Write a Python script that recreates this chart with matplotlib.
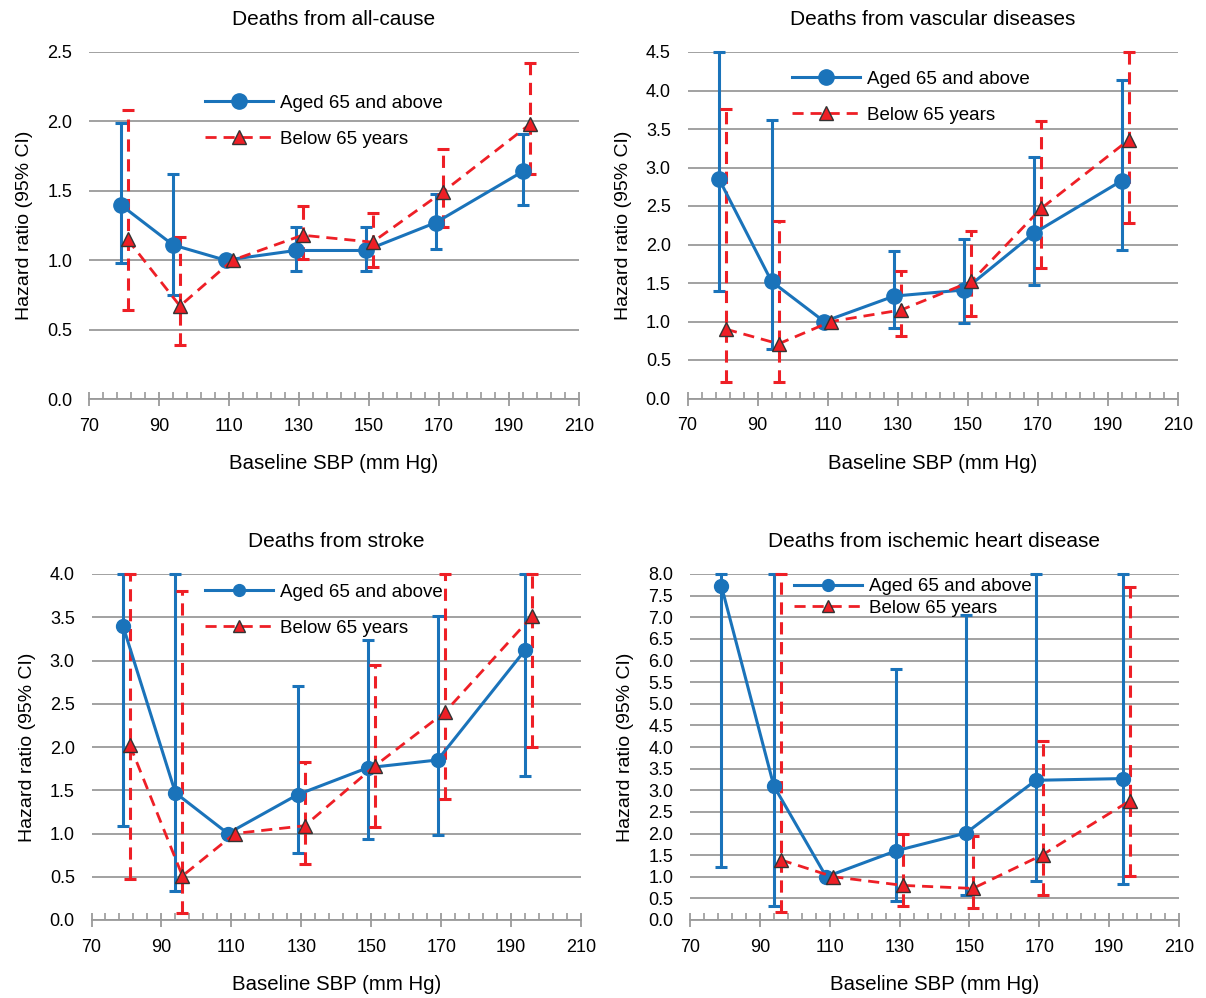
import numpy as np
import matplotlib
matplotlib.use("Agg")
import matplotlib.pyplot as plt
from matplotlib.ticker import FormatStrFormatter

plt.rcParams['font.family'] = ['Liberation Sans', 'DejaVu Sans']
BLUE = "#1a73ba"
RED = "#ee1f26"
GRID = "#9a9a9a"
nan = np.nan

# SBP group positions (the two series are drawn slightly apart)
sbp_old = [79, 94, 109, 129, 149, 169, 194]
sbp_young = [81, 96, 111, 131, 151, 171, 196]

titles = ["Deaths from all-cause", "Deaths from vascular diseases",
          "Deaths from stroke", "Deaths from ischemic heart disease"]
ytops = [2.5, 4.5, 4.0, 8.0]

# all-cause
ac_old = [1.40, 1.11, 1.00, 1.07, 1.07, 1.27, 1.64]
ac_old_lo = [0.98, 0.75, nan, 0.92, 0.92, 1.08, 1.40]
ac_old_hi = [1.99, 1.62, nan, 1.24, 1.24, 1.48, 1.91]
ac_young = [1.15, 0.67, 1.00, 1.18, 1.13, 1.49, 1.98]
ac_young_lo = [0.64, 0.39, nan, 1.01, 0.95, 1.24, 1.62]
ac_young_hi = [2.08, 1.17, nan, 1.39, 1.34, 1.80, 2.42]

# vascular
va_old = [2.85, 1.52, 1.00, 1.33, 1.41, 2.15, 2.83]
va_old_lo = [1.40, 0.64, nan, 0.91, 0.98, 1.47, 1.93]
va_old_hi = [4.50, 3.62, nan, 1.92, 2.07, 3.13, 4.14]
va_young = [0.90, 0.71, 1.00, 1.15, 1.52, 2.47, 3.36]
va_young_lo = [0.22, 0.22, nan, 0.81, 1.07, 1.70, 2.28]
va_young_hi = [3.76, 2.30, nan, 1.66, 2.18, 3.60, 4.50]

# stroke
st_old = [3.40, 1.47, 1.00, 1.45, 1.76, 1.85, 3.12]
st_old_lo = [1.09, 0.33, nan, 0.77, 0.94, 0.98, 1.66]
st_old_hi = [4.00, 4.00, nan, 2.70, 3.24, 3.52, 4.00]
st_young = [2.02, 0.51, 1.00, 1.09, 1.78, 2.40, 3.51]
st_young_lo = [0.47, 0.08, nan, 0.65, 1.08, 1.40, 2.00]
st_young_hi = [4.00, 3.80, nan, 1.83, 2.95, 4.00, 4.00]

# ischemic heart disease
ih_old = [7.72, 3.10, 1.00, 1.60, 2.01, 3.23, 3.27]
ih_old_lo = [1.23, 0.32, nan, 0.44, 0.58, 0.90, 0.83]
ih_old_hi = [8.00, 8.00, nan, 5.80, 7.05, 8.00, 8.00]
ih_young = [nan, 1.39, 1.00, 0.80, 0.73, 1.51, 2.76]
ih_young_lo = [nan, 0.18, nan, 0.33, 0.28, 0.57, 1.02]
ih_young_hi = [nan, 8.00, nan, 1.99, 1.95, 4.13, 7.69]

panels = [
    (ac_old, ac_old_lo, ac_old_hi, ac_young, ac_young_lo, ac_young_hi),
    (va_old, va_old_lo, va_old_hi, va_young, va_young_lo, va_young_hi),
    (st_old, st_old_lo, st_old_hi, st_young, st_young_lo, st_young_hi),
    (ih_old, ih_old_lo, ih_old_hi, ih_young, ih_young_lo, ih_young_hi),
]

W, H = 1206, 998
# axes boxes in pixels: left, right, top, bottom
boxes = [(89, 579, 52, 399), (687.5, 1178, 52, 398.5),
         (91.5, 581, 574, 920), (690, 1179, 574, 920)]
# legend anchor (axes fraction), row spacing, marker scale
leg_pos = [(0.222, 0.898, 1.0, 1.0), (0.197, 0.968, 1.0, 1.0),
           (0.217, 0.993, 1.0, 0.85), (0.197, 1.01, 0.25, 0.85)]

fig = plt.figure(figsize=(W / 100, H / 100), dpi=100)


def draw_err(ax, x, y, lo, hi, color, dashed):
    x = np.array(x, float); y = np.array(y, float)
    lo = np.array(lo, float); hi = np.array(hi, float)
    ok = ~np.isnan(lo)
    eb = ax.errorbar(x[ok], y[ok], yerr=[y[ok] - lo[ok], hi[ok] - y[ok]],
                     fmt="none", ecolor=color, elinewidth=2.2, capsize=4,
                     capthick=2.2, zorder=2)
    for c in eb[1]:
        c.set_clip_on(False)
    for lc in eb[2]:
        lc.set_clip_on(False)
        if dashed:
            lc.set_linestyle((0, (4, 2.5)))


for i, (box, data) in enumerate(zip(boxes, panels)):
    l, r, t, b = box
    ax = fig.add_axes([l / W, 1 - b / H, (r - l) / W, (b - t) / H])
    old, old_lo, old_hi, yng, yng_lo, yng_hi = data

    draw_err(ax, sbp_old, old, old_lo, old_hi, BLUE, False)
    draw_err(ax, sbp_young, yng, yng_lo, yng_hi, RED, True)

    ms = 11 if i < 2 else 10
    ax.plot(sbp_old, old, "-o", color=BLUE, lw=2.2, ms=ms, zorder=3,
            clip_on=False, label="Aged 65 and above")
    ax.plot(sbp_young, yng, "--^", color=RED, lw=2.0, ms=ms - 0.5,
            markeredgecolor="#333333", markeredgewidth=1.0,
            dashes=(4, 2.5), zorder=4, clip_on=False, label="Below 65 years")

    ax.set_xlim(70, 210)
    ax.set_ylim(0, ytops[i])
    ax.set_xticks(np.arange(70, 211, 20))
    ax.set_xticks(np.arange(70, 211, 4), minor=True)
    ax.set_yticks(np.arange(0, ytops[i] + 0.01, 0.5))
    ax.yaxis.set_major_formatter(FormatStrFormatter("%.1f"))
    ax.tick_params(axis="x", which="major", direction="inout", length=10,
                   width=1.3, color=GRID, labelsize=13, pad=8.5)
    ax.tick_params(axis="x", which="minor", direction="in", length=5,
                   width=1.2, color=GRID)
    ax.tick_params(axis="y", length=0, labelsize=13, pad=12)
    for s in ["left", "right", "top"]:
        ax.spines[s].set_visible(False)
    ax.spines["bottom"].set_color(GRID)
    ax.spines["bottom"].set_linewidth(1.3)
    ax.yaxis.grid(True, color=GRID, lw=1.3)
    ax.set_axisbelow(True)

    ax.set_title(titles[i], fontsize=15, pad=19.5)
    ax.set_xlabel("Baseline SBP (mm Hg)", fontsize=14.7, labelpad=14)
    ax.set_ylabel("Hazard ratio (95% CI)", fontsize=14, labelpad=10)

    lx, ly, lsp, mscale = leg_pos[i]
    ax.legend(loc="upper left", bbox_to_anchor=(lx, ly), frameon=False,
              fontsize=13.5, handlelength=3.63, handletextpad=0.37,
              labelspacing=lsp, markerscale=mscale, borderaxespad=0)

fig.savefig("out.png", dpi=100)
